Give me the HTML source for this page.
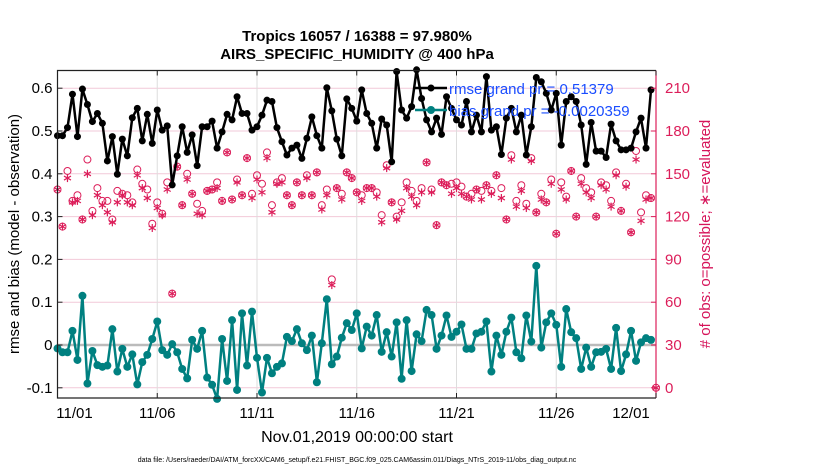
<!DOCTYPE html>
<html><head><meta charset="utf-8"><style>
body{margin:0;background:#fff;}
svg text{font-family:"Liberation Sans",sans-serif;}
</style></head><body>
<svg id="chart" width="830" height="470" viewBox="0 0 830 470" xmlns="http://www.w3.org/2000/svg">
<text x="357" y="41" text-anchor="middle" font-size="15" font-weight="bold">Tropics 16057 / 16388 = 97.980%</text>
<text x="357" y="59" text-anchor="middle" font-size="15" font-weight="bold">AIRS_SPECIFIC_HUMIDITY @ 400 hPa</text>
<g id="grid"></g>
<g id="series"></g>
<g id="axes"></g>
<text transform="translate(19,234) rotate(-90)" text-anchor="middle" font-size="15">rmse and bias (model - observation)</text>
<text transform="translate(710,234) rotate(-90)" text-anchor="middle" font-size="15" fill="#d6145a"># of obs: o=possible; ∗=evaluated</text>
<text x="357" y="442" text-anchor="middle" font-size="16">Nov.01,2019 00:00:00 start</text>
<text x="357" y="462" text-anchor="middle" font-size="7">data file: /Users/raeder/DAI/ATM_forcXX/CAM6_setup/f.e21.FHIST_BGC.f09_025.CAM6assim.011/Diags_NTrS_2019-11/obs_diag_output.nc</text>
<g>
<line x1="415" y1="88" x2="447" y2="88" stroke="#000" stroke-width="2.5"/>
<circle cx="431" cy="88" r="3.5" fill="#000"/>
<text x="449" y="94" font-size="15" fill="#1a4dff">rmse grand pr = 0.51379</text>
<line x1="415" y1="110" x2="447" y2="110" stroke="#008080" stroke-width="2.5"/>
<circle cx="431" cy="110" r="4" fill="#008080"/>
<text x="449" y="116" font-size="15" fill="#1a4dff">bias grand pr = -0.0020359</text>
</g>
</svg>
<script>
const xTickLabels = ["11/01","11/06","11/11","11/16","11/21","11/26","12/01"];
const xTickDays = [0,5,10,15,20,25,30];
const yTicksLeft = [-0.1,0,0.1,0.2,0.3,0.4,0.5,0.6];
const yTicksRight = [0,30,60,90,120,150,180,210];
const rmse = [.489,.489,.508,.586,.487,.598,.562,.522,.541,.518,.430,.487,.399,.481,.442,.531,.553,.477,.539,.471,.549,
.502,.512,.374,.442,.510,.450,.491,.419,.510,.510,.523,.460,.498,.539,.526,.580,.541,.541,.502,.510,
.537,.572,.569,.508,.475,.444,.460,.467,.436,.483,.533,.489,.460,.601,.547,.481,.442,.575,.553,.523,
.596,.541,.518,.460,.528,.514,.428,.639,.549,.530,.557,.643,.576,.526,.498,.530,.492,.580,.553,.526,
.514,.569,.498,.537,.498,.627,.502,.510,.445,.530,.553,.498,.537,.444,.510,.625,.615,.588,.549,.588,
.467,.569,.580,.569,.514,.422,.520,.453,.453,.438,.516,.477,.456,.456,.460,.498,.530,.460,.596];
const bias = [-.008,-.017,-.017,.033,-.035,.115,-.090,-.014,-.047,-.051,-.048,.037,-.062,-.009,-.051,-.022,-.092,-.040,-.023,.014,.055,
-.012,-.023,.002,-.017,-.056,-.078,.012,-.009,.033,-.076,-.093,-.126,.014,-.084,.058,-.105,.074,-.048,.078,-.030,
-.111,-.030,-.066,-.051,-.043,.019,.009,.037,.004,-.012,.022,-.087,.004,.107,-.045,-.027,.017,.051,.035,.074,
-.008,.043,.022,.070,-.016,.030,-.027,.053,-.079,.058,-.061,.025,.009,.082,.070,-.009,.022,.069,.019,.031,
.048,-.009,-.009,.027,.031,.055,-.062,.022,-.023,.031,.064,-.017,-.031,.069,.008,.185,-.006,.053,.074,.047,
-.051,.084,.030,.016,-.056,-.006,-.051,-.017,-.016,-.009,-.056,.040,-.061,-.022,.033,-.037,.006,.016,.012];
const possible = [139,113,152,131,135,118,160,124,140,131,131,118,138,136,135,130,153,143,139,115,130,
122,144,66,155,128,150,136,129,124,138,139,144,131,165,132,146,135,161,136,149,
143,165,128,144,147,135,128,144,135,149,135,151,128,139,76,140,136,151,147,137,
135,140,140,137,121,156,130,120,130,144,138,131,140,158,139,114,144,142,143,144,
141,134,136,139,138,142,138,149,140,118,163,131,142,129,161,123,136,130,146,108,
144,134,152,120,147,140,137,120,144,142,131,151,124,143,109,166,123,135,133,0];
const evaluated = [139,113,147,130,131,118,150,121,135,128,123,116,130,135,130,128,149,140,133,112,126,
121,139,66,155,128,146,136,122,121,138,139,140,131,165,132,144,135,161,133,146,
137,161,123,143,144,135,128,144,135,147,135,151,125,135,72,140,132,151,147,137,
131,140,140,134,116,154,130,118,124,140,134,128,137,158,137,114,144,142,136,140,
136,134,132,139,132,142,136,149,133,118,160,127,138,126,159,123,132,130,143,108,
139,132,152,120,143,137,133,120,142,139,127,149,124,141,109,160,117,132,133,0];

const NS="http://www.w3.org/2000/svg";
const L=57.5,R=656,T=70.5,B=398;
const PINK="#dc1e5a";
function xDay(d){return L+d*(R-L)/30;}
function xIdx(i){return xDay(i*0.25);}
function yL(v){return 345-v*428;}
function yR(c){return yL(c/300-0.1);}
function mk(tag,attrs,parent){const e=document.createElementNS(NS,tag);for(const k in attrs)e.setAttribute(k,attrs[k]);parent.appendChild(e);return e;}
const grid=document.getElementById('grid'),ser=document.getElementById('series'),ax=document.getElementById('axes');

yTicksLeft.forEach(v=>{const g=mk('line',{x1:L,x2:R,y1:yL(v),y2:yL(v),stroke:'#f2c9d8','stroke-width':1},grid);

});
xTickDays.forEach(d=>{const g=mk('line',{x1:xDay(d),x2:xDay(d),y1:T,y2:B,stroke:'#dddddd','stroke-width':1},grid);

});
const z=mk('line',{x1:L,x2:R,y1:yL(0),y2:yL(0),stroke:'#bbbbbb','stroke-width':2.5},grid);



// counts
possible.forEach((c,i)=>{const e=mk('circle',{cx:xIdx(i),cy:yR(c),r:3.5,fill:'none',stroke:PINK,'stroke-width':1},ser);

});
evaluated.forEach((c,i)=>{const x=xIdx(i),y=yR(c);const g=mk('g',{stroke:PINK,'stroke-width':1.2},ser);


[[0,-4,0,4],[-3.5,-2,3.5,2],[-3.5,2,3.5,-2]].forEach(s=>mk('line',{x1:x+s[0],y1:y+s[1],x2:x+s[2],y2:y+s[3]},g));});

function drawLine(arr,color,r,name){
  const pts=arr.map((v,i)=>xIdx(i).toFixed(1)+','+Math.max(yL(v),0).toFixed(1)).join(' ');
  const p=mk('polyline',{points:pts,fill:'none',stroke:color,'stroke-width':2.5,'stroke-linejoin':'round'},ser);
  
  
  arr.forEach((v,i)=>{const c=mk('circle',{cx:xIdx(i),cy:yL(v),r:r,fill:color},ser);
  
  });
}
drawLine(rmse,'#000',3.5,'rmse');
drawLine(bias,'#008080',4,'bias');

// axes
const fr=mk('path',{d:`M${R},${T} L${L},${T} L${L},${B} L${R},${B}`,fill:'none',stroke:'#222','stroke-width':1.2},ax);


const ra=mk('line',{x1:R,x2:R,y1:T,y2:B,stroke:PINK,'stroke-width':1.2},ax);


yTicksLeft.forEach(v=>{mk('line',{x1:L,x2:L+5,y1:yL(v),y2:yL(v),stroke:'#222'},ax);
const t=mk('text',{x:L-5,y:yL(v)+5,'text-anchor':'end','font-size':15},ax);t.textContent=v===0?'0':String(v);

});
yTicksRight.forEach(c=>{mk('line',{x1:R-5,x2:R,y1:yR(c),y2:yR(c),stroke:PINK},ax);
const t=mk('text',{x:R+9,y:yR(c)+5,'font-size':15,fill:PINK},ax);t.textContent=String(c);

});
xTickDays.forEach((d,k)=>{mk('line',{x1:xDay(d),x2:xDay(d),y1:B,y2:B-5,stroke:'#222'},ax);mk('line',{x1:xDay(d),x2:xDay(d),y1:T,y2:T+5,stroke:'#222'},ax);
let tx=xDay(d);if(k===0)tx+=17;if(k===xTickDays.length-1)tx-=25;
const t=mk('text',{x:tx,y:418,'text-anchor':'middle','font-size':15},ax);t.textContent=xTickLabels[k];

});
</script>
</body></html>
